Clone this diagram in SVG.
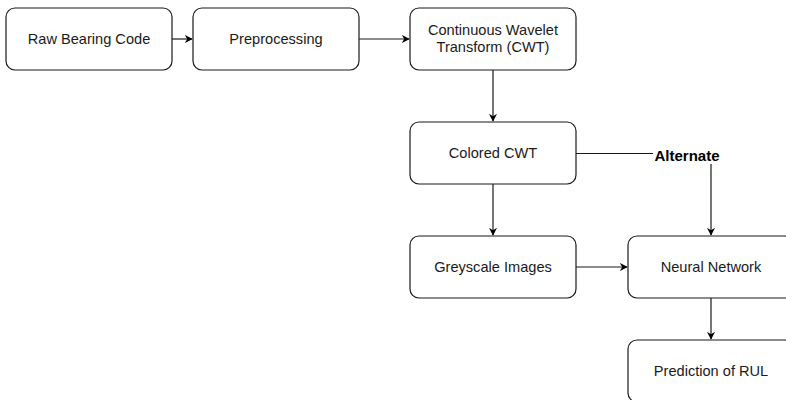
<svg xmlns="http://www.w3.org/2000/svg" width="786" height="400" viewBox="0 0 786 400">
<defs>
<style>
.box{fill:#fff;stroke:#1a1a1a;stroke-width:1.2}
.lbl{font-family:"Liberation Sans",Arial,sans-serif;font-size:14.6px;fill:#1a1a1a;text-anchor:middle;dominant-baseline:central}
.edge{fill:none;stroke:#1a1a1a;stroke-width:1.2}
.alt{font-family:"Liberation Sans",Arial,sans-serif;font-size:15px;font-weight:bold;fill:#000;text-anchor:middle;dominant-baseline:central}
</style>
<marker id="arr" viewBox="0 0 10 10" refX="9" refY="5" markerWidth="8" markerHeight="8" markerUnits="userSpaceOnUse" orient="auto">
<path d="M0,0 L10,5 L0,10 L3,5 Z" fill="#000"/>
</marker>
</defs>
<rect width="786" height="400" fill="#fff"/>
<g id="connectors">
<line class="edge" x1="172" y1="39" x2="192" y2="39" marker-end="url(#arr)"/>
<line class="edge" x1="359" y1="39" x2="409" y2="39" marker-end="url(#arr)"/>
<line class="edge" x1="493" y1="70" x2="493" y2="121" marker-end="url(#arr)"/>
<line class="edge" x1="493" y1="184" x2="493" y2="235" marker-end="url(#arr)"/>
<line class="edge" x1="576" y1="267" x2="627" y2="267" marker-end="url(#arr)"/>
<line class="edge" x1="711" y1="298" x2="711" y2="339" marker-end="url(#arr)"/>
<line class="edge" x1="576" y1="153.5" x2="653" y2="153.5"/>
<line class="edge" x1="711" y1="164" x2="711" y2="235" marker-end="url(#arr)"/>
<text class="alt" x="687" y="155">Alternate</text>
</g>
<g id="raw"><rect class="box" x="6" y="8" width="166" height="62" rx="9"/><text class="lbl" x="89" y="39">Raw Bearing Code</text></g>
<g id="prep"><rect class="box" x="193" y="8" width="166" height="62" rx="9"/><text class="lbl" x="276" y="39">Preprocessing</text></g>
<g id="cwt"><rect class="box" x="410" y="8" width="166" height="62" rx="9"/><text class="lbl" x="493" y="30">Continuous Wavelet</text><text class="lbl" x="493" y="47">Transform (CWT)</text></g>
<g id="colored"><rect class="box" x="410" y="122" width="166" height="62" rx="9"/><text class="lbl" x="493" y="153">Colored CWT</text></g>
<g id="grey"><rect class="box" x="410" y="236" width="166" height="62" rx="9"/><text class="lbl" x="493" y="267">Greyscale Images</text></g>
<g id="nn"><rect class="box" x="628" y="236" width="166" height="62" rx="9"/><text class="lbl" x="711" y="267">Neural Network</text></g>
<g id="pred"><rect class="box" x="628" y="340" width="166" height="62" rx="9"/><text class="lbl" x="711" y="371">Prediction of RUL</text></g>
</svg>
